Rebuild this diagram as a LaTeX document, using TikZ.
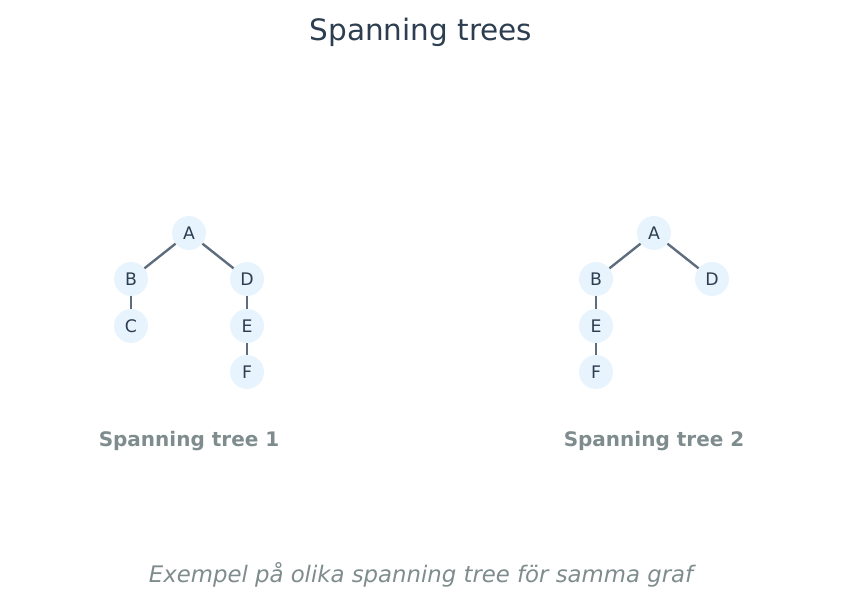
\documentclass[tikz,border=0pt]{standalone}
\usepackage{fontspec}
\setmainfont{DejaVu Sans}
\definecolor{txt}{HTML}{2C3E50}
\definecolor{edge}{HTML}{5D6D7E}
\definecolor{nfill}{HTML}{E8F4FD}
\definecolor{gr}{HTML}{7F8C8D}
\begin{document}
\begin{tikzpicture}[x=1pt,y=-1pt,
  v/.style={circle,fill=nfill,minimum size=34pt,inner sep=0pt,text=txt,font=\fontsize{17.3}{20}\selectfont},
  e/.style={draw=edge,line width=2.4pt},
  lab/.style={text=gr,font=\fontsize{20}{24}\selectfont\bfseries}]
\useasboundingbox (0,0) rectangle (843,607);
\node[text=txt,font=\fontsize{29.5}{34}\selectfont] (title) at (421,32) {Spanning trees};
\node[v] (A1) at (189,233) {A};
\node[v] (B1) at (131,279) {B};
\node[v] (D1) at (247,279) {D};
\node[v] (C1) at (131,326) {C};
\node[v] (E1) at (247,326) {E};
\node[v] (F1) at (247,372) {F};
\draw[e] (A1)--(B1); \draw[e] (A1)--(D1); \draw[e] (B1)--(C1);
\draw[e] (D1)--(E1); \draw[e] (E1)--(F1);
\node[v] (A2) at (654,233) {A};
\node[v] (B2) at (596,279) {B};
\node[v] (D2) at (712,279) {D};
\node[v] (E2) at (596,326) {E};
\node[v] (F2) at (596,372) {F};
\draw[e] (A2)--(B2); \draw[e] (A2)--(D2); \draw[e] (B2)--(E2); \draw[e] (E2)--(F2);
\node[lab] (l1) at (189,441) {Spanning tree 1};
\node[lab] (l2) at (654,441) {Spanning tree 2};
\node[text=gr,font=\fontsize{22.8}{27}\selectfont\itshape] (foot) at (421,575) {Exempel på olika spanning tree för samma graf};
\end{tikzpicture}
\end{document}
